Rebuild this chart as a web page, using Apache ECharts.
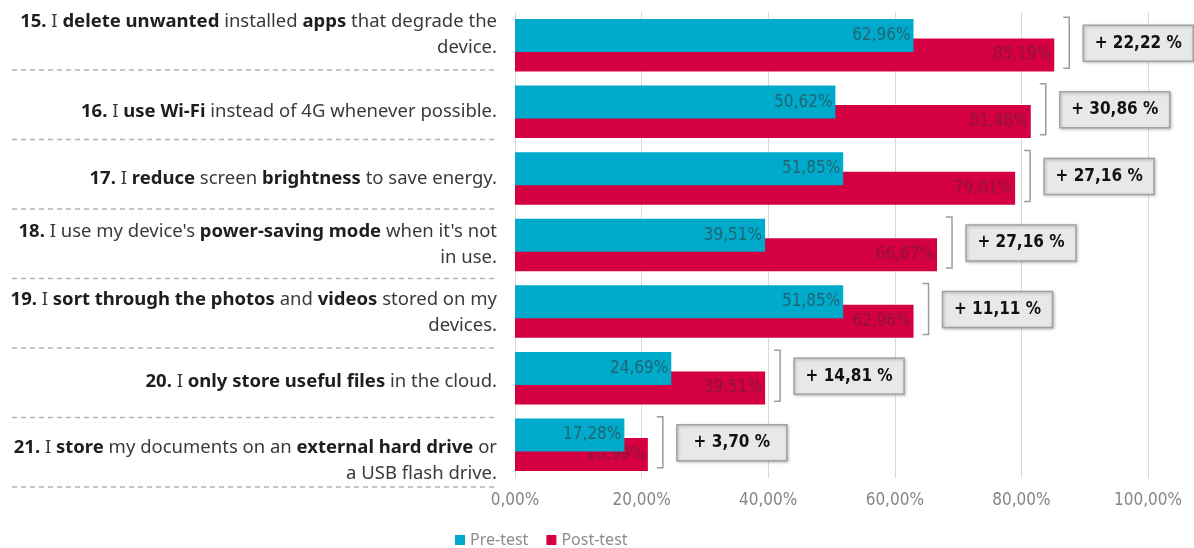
<!DOCTYPE html>
<html><head><meta charset="utf-8">
<script src="https://cdn.jsdelivr.net/npm/echarts@6/dist/echarts.min.js"></script>
<style>html,body{margin:0;padding:0;background:#fff}#c{width:1194px;height:548px}</style>
</head><body><div id="c"></div>
<script>
// ---- data ----
const categories = [
  "**15.** I **delete unwanted** installed **apps** that degrade the\ndevice.",
  "**16.** I **use Wi-Fi** instead of 4G whenever possible.",
  "**17.** I **reduce** screen **brightness** to save energy.",
  "**18.** I use my device's **power-saving mode** when it's not\nin use.",
  "**19.** I **sort through the photos** and **videos** stored on my\ndevices.",
  "**20.** I **only store useful files** in the cloud.",
  "**21.** I **store** my documents on an **external hard drive** or\na USB flash drive."
];
const seriesNames = ["Pre-test", "Post-test"];
const preTest  = [62.96, 50.62, 51.85, 39.51, 51.85, 24.69, 17.28];
const postTest = [85.19, 81.48, 79.01, 66.67, 62.96, 39.51, 20.99];
const gains    = [22.22, 30.86, 27.16, 27.16, 11.11, 14.81, 3.70];
const xMin = 0, xMax = 100, xStep = 20;

// ---- layout / style ----
const labelShift = [-11, 0, 0, 0, 1, 4, 16];
const sepStartY = 70, sepStep = 69.5;
const NARROW = "'Liberation Sans Narrow','DejaVu Sans Condensed',Roboto,sans-serif";
const SANS = "'Noto Sans',Inter,sans-serif";
const fmt = v => v.toFixed(2).replace('.', ',');

function toRich(s) {
  return s.split('**').map((t, i) => t === '' ? '' : (i % 2 ? '{b|' + t + '}' : '{n|' + t + '}')).join('');
}

const chart = echarts.init(document.getElementById('c'), null, {renderer: 'canvas'});

const separators = categories.map((c, i) => ({
  type: 'line', silent: true,
  shape: {x1: 12, y1: sepStartY + i * sepStep, x2: 498, y2: sepStartY + i * sepStep},
  style: {stroke: '#b3b3b3', lineWidth: 1.5, lineDash: [5, 4]}
}));

chart.setOption({
  animation: false,
  backgroundColor: '#ffffff',
  grid: {left: 515, right: 46, top: 12, bottom: 70},
  legend: {
    data: seriesNames, left: 455, top: 532, icon: 'rect', padding: 0,
    itemWidth: 10, itemHeight: 10, itemGap: 18,
    textStyle: {fontFamily: SANS, fontSize: 16, color: '#8c8c8c'}
  },
  xAxis: {
    type: 'value', min: xMin, max: xMax, interval: xStep,
    axisLine: {show: false}, axisTick: {show: false},
    splitLine: {lineStyle: {color: '#d9d9d9', width: 1}},
    axisLabel: {formatter: v => fmt(v) + '%', margin: 14, fontFamily: NARROW, fontSize: 17, color: '#858585'}
  },
  yAxis: {
    type: 'category', inverse: true,
    data: categories.map((c, i) => ({
      value: c,
      textStyle: {padding: labelShift[i] < 0 ? [0, 0, -2 * labelShift[i], 0] : [2 * labelShift[i], 0, 0, 0]}
    })),
    axisLine: {show: false}, axisTick: {show: false},
    axisLabel: {
      margin: 18, align: 'right',
      formatter: v => toRich(v),
      rich: {
        n: {fontFamily: SANS, fontSize: 18.5, color: '#3a3a3a', lineHeight: 26, align: 'right'},
        b: {fontFamily: SANS, fontSize: 18.5, fontWeight: 'bold', color: '#1e1e1e', lineHeight: 26, align: 'right'}
      }
    }
  },
  graphic: separators,
  series: [
    {
      name: seriesNames[0], type: 'bar', data: preTest, z: 3,
      barWidth: 33, barGap: '-41%',
      itemStyle: {color: '#00AACB'},
      label: {show: true, position: 'insideRight', distance: 3, formatter: p => fmt(p.value) + '%',
        fontFamily: NARROW, fontSize: 17, color: 'rgba(55,55,55,0.6)'}
    },
    {
      name: seriesNames[1], type: 'bar', data: postTest, z: 2,
      barWidth: 33, barGap: '-41%',
      itemStyle: {color: '#D50041'},
      label: {show: true, position: 'insideRight', distance: 3, formatter: p => fmt(p.value) + '%',
        fontFamily: NARROW, fontSize: 17, color: 'rgba(70,40,50,0.5)'}
    },
    {
      type: 'custom', name: 'gain', z: 6, clip: false, silent: true,
      data: postTest.map((v, i) => [v, i, gains[i]]),
      encode: {x: 0, y: 1},
      renderItem: function (params, api) {
        const p = api.coord([api.value(0), api.value(1)]);
        const x = p[0], y = p[1];
        const bx = x + 15;
        return {
          type: 'group', children: [
            {type: 'polyline', shape: {points: [[bx - 6, y - 28], [bx, y - 28], [bx, y + 23], [bx - 6, y + 23]]},
              style: {stroke: '#9c9c9c', lineWidth: 1.5, fill: null}},
            {type: 'rect', shape: {x: x + 29, y: y - 20, width: 110, height: 36},
              style: {fill: '#e8e8e8', stroke: '#a3a3a3', lineWidth: 1.5,
                shadowBlur: 3, shadowColor: 'rgba(0,0,0,0.25)', shadowOffsetX: 1, shadowOffsetY: 1}},
            {type: 'text', style: {text: '+ ' + fmt(api.value(2)) + ' %', x: x + 29 + 55, y: y - 2,
              align: 'center', verticalAlign: 'middle', font: 'bold 17px ' + NARROW, fill: '#111111'}}
          ]
        };
      }
    }
  ]
});
</script></body></html>
